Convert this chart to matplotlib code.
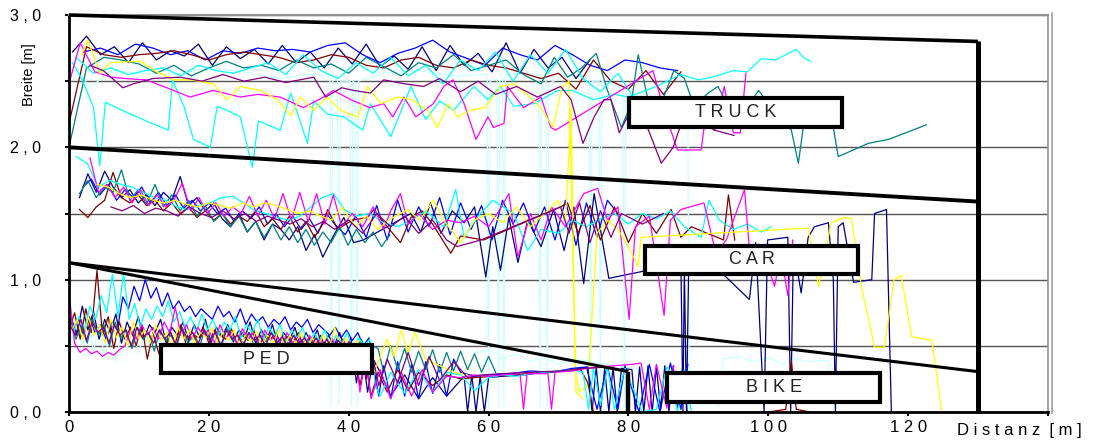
import numpy as np
import matplotlib
matplotlib.use("Agg")
from matplotlib import pyplot as plt
from matplotlib.patches import Rectangle
from matplotlib.lines import Line2D

plt.rcParams["font.family"] = ["Liberation Sans", "DejaVu Sans"]

# excel default series colours
NAVY = "#000080"
BLUE = "#0000FF"
MAROON = "#800000"
TEAL = "#008080"
CYAN = "#00FFFF"
MAGENTA = "#FF00FF"
YELLOW = "#FFFF00"
PURPLE = "#800080"
LCYAN = "#CCFFFF"

# ---------------- TRUCK ----------------
truck_navy = [2.72, 2.84, 2.70, 2.76, 2.64, 2.79, 2.66, 2.73, 2.69, 2.78, 2.62, 2.76, 2.67, 2.74, 2.63, 2.77,
              2.64, 2.72, 2.60, 2.75, 2.63, 2.78, 2.61, 2.69, 2.59, 2.76, 2.58, 2.77, 2.62, 2.71, 2.57, 2.79,
              2.56, 2.74, 2.60, 2.68, 2.52, 2.66]  # from 0.5 m, every 2 m
truck_blue = [2.72, 2.75, 2.70, 2.78, 2.75, 2.70, 2.73, 2.66, 2.73, 2.71, 2.75, 2.73, 2.74, 2.72, 2.77, 2.79,
              2.70, 2.64, 2.71, 2.75, 2.81, 2.72, 2.67, 2.62, 2.75, 2.70, 2.66, 2.77, 2.70, 2.62, 2.58, 2.66,
              2.64, 2.60, 2.58]  # from 2 m, every 2.5 m
truck_maroon = [2.18, 2.76, 2.70, 2.68, 2.70, 2.71, 2.73, 2.70, 2.66, 2.70, 2.72, 2.70, 2.68, 2.64, 2.66, 2.70,
                2.68, 2.62, 2.60, 2.66, 2.68, 2.62, 2.60, 2.66, 2.62, 2.60, 2.56, 2.52, 2.56, 2.44, 2.66, 2.50,
                2.44, 2.58, 2.40, 2.57]  # from 0 m, every 2.5 m
truck_teal = [2.00, 2.60, 2.68, 2.66, 2.63, 2.56, 2.62, 2.54, 2.60, 2.65, 2.60, 2.62, 2.58, 2.66, 2.60, 2.63,
              2.56, 2.68, 2.61, 2.54, 2.64, 2.60, 2.70, 2.58, 2.62, 2.66, 2.55, 2.48]  # from 0 m, every 2.5 m
truck_teal_tail_x = [69.4, 71.3, 73.3, 75.4, 77, 79, 80.4, 81.4, 82.8, 84.6, 86.5, 88, 89.4, 91.4, 92.8, 94.3,
                     96.4, 98.6, 100.5, 103.3, 104.3, 105, 106.5, 108.3, 109.3, 110, 114.3, 117.2, 122.6]
truck_teal_tail_y = [2.68, 2.53, 2.60, 2.71, 2.43, 2.15, 2.33, 2.70, 2.36, 2.32, 2.58, 2.52, 2.31, 2.41, 2.46, 2.31,
                     2.26, 2.43, 2.30, 2.13, 1.88, 2.15, 2.30, 2.38, 2.15, 1.93, 2.03, 2.06, 2.17]
truck_cyan_a_x = [0.5, 2, 3.5, 4.4, 5.2, 8, 11, 14.2, 14.8, 16.5, 17.8, 20.2, 21.2, 23, 24.5, 26.2, 27.1, 30.2,
                  31.7, 34.1, 35, 37, 39.3, 42, 43.1, 46, 48.9, 51, 53, 55, 57.9, 59.9, 61.7, 63.6, 66.5, 69.9,
                  72, 75, 78, 80, 84, 87.5, 90, 92, 95, 97, 99, 101, 104, 105, 106]
truck_cyan_a_y = [2.64, 2.50, 2.30, 1.86, 2.34, 2.27, 2.20, 2.13, 2.51, 2.30, 2.06, 2.00, 2.31, 2.27, 2.23, 1.85,
                  2.20, 2.13, 2.41, 2.03, 2.35, 2.25, 2.23, 2.13, 2.33, 2.08, 2.46, 2.21, 2.35, 2.28, 2.46, 2.36,
                  2.46, 2.31, 2.33, 2.43, 2.43, 2.36, 2.40, 2.38, 2.46, 2.55, 2.51, 2.53, 2.58, 2.57, 2.67, 2.66,
                  2.74, 2.68, 2.65]
truck_cyan_b = [2.68, 2.56, 2.60, 2.55, 2.58, 2.60, 2.54, 2.62, 2.58, 2.56, 2.60, 2.64, 2.55, 2.70, 2.58, 2.52,
                2.64, 2.56, 2.68, 2.54, 2.62, 2.48, 2.66, 2.58, 2.72, 2.50, 2.70, 2.56, 2.74, 2.52, 2.42, 2.56,
                2.35]  # from 1 m, every 2.5 m
truck_magenta_x = [0, 1.6, 3.7, 6, 8, 11, 14, 17.3, 20.6, 24.5, 27, 30.2, 33.5, 36.4, 37.8, 40.3, 43, 45, 46.3,
                   47.9, 49.6, 52.1, 53.6, 54.9, 56.5, 58.2, 59.9, 60.7, 62.2, 62.7, 65, 67.5, 68.9, 69.6, 83.5,
                   85, 87, 90.4, 91.4, 92.3, 93.7, 95, 96, 96.8]
truck_magenta_y = [2.48, 2.79, 2.57, 2.53, 2.52, 2.51, 2.45, 2.38, 2.43, 2.38, 2.40, 2.38, 2.30, 2.38, 2.43, 2.36,
                   2.30, 2.33, 2.23, 2.38, 2.23, 2.33, 2.46, 2.51, 2.33, 2.06, 2.23, 2.15, 2.18, 2.46, 2.30, 2.38,
                   2.15, 2.13, 2.58, 2.30, 1.98, 1.98, 2.38, 2.13, 2.46, 2.11, 2.11, 2.56]
truck_yellow_x = [1.8, 2.7, 4.4, 5.9, 10.2, 12.6, 14.9, 17.5, 20.6, 22.6, 24.5, 27.4, 29.8, 31.7, 33.1, 35, 36.9,
                  38.8, 41.3, 42.7, 44.6, 47, 49, 51.3, 52.7, 54.2, 55.6, 57.4, 59.5, 61.7, 63.6, 65.5, 67.5,
                  69.2, 70.5, 71.5, 72.5, 73.5]
truck_yellow_y = [2.70, 2.81, 2.56, 2.64, 2.65, 2.57, 2.51, 2.51, 2.48, 2.36, 2.46, 2.43, 2.36, 2.24, 2.38, 2.28,
                  2.38, 2.28, 2.23, 2.46, 2.33, 2.38, 2.36, 2.28, 2.15, 2.33, 2.23, 2.28, 2.30, 2.46, 2.48, 2.40,
                  2.30, 2.15, 2.45, 2.50, 0.15, 0.10]
truck_purple_x = [3, 4.9, 7.7, 9.2, 12, 15.9, 19, 22, 25, 28, 31, 35, 36.7, 39, 40.7, 43.1, 45, 48, 50.7, 53, 56,
                  58.5, 61, 64, 67, 70.3, 71.8, 73.5, 75.1, 76.5, 77.5, 78.7, 80.5, 82.5, 84.7, 86.4, 88, 90,
                  92.3, 95.1]
truck_purple_y = [2.62, 2.58, 2.45, 2.48, 2.52, 2.53, 2.50, 2.55, 2.50, 2.53, 2.49, 2.53, 2.38, 2.45, 2.43, 2.41,
                  2.51, 2.48, 2.46, 2.52, 2.42, 2.50, 2.40, 2.46, 2.38, 2.46, 2.36, 2.03, 2.23, 2.36, 2.36, 2.11,
                  2.30, 2.18, 1.88, 2.00, 2.25, 2.20, 2.13, 2.09]
truck_lcyan_x = [1, 3, 6, 10, 15, 20, 25, 30, 34, 37.3, 37.5, 37.7, 38.4, 38.6, 38.8, 40.2, 40.4, 40.6, 41.0, 41.2,
                 41.4, 45, 50, 55, 59.8, 60.0, 60.2, 61.2, 61.4, 61.6, 62.0, 62.2, 62.4, 65, 67.2, 67.4, 67.6,
                 68.2, 68.4, 68.6, 71, 74.4, 74.6, 74.8, 75.8, 76.0, 76.2, 79.2, 79.4, 79.6, 84, 88.5, 88.7]
truck_lcyan_y = [2.60, 2.45, 2.58, 2.56, 2.55, 2.60, 2.57, 2.52, 2.55, 2.55, 0.05, 2.50, 2.52, 0.05, 2.50, 2.50,
                 0.05, 2.50, 2.48, 0.05, 2.50, 2.56, 2.58, 2.54, 2.55, 0.03, 2.50, 2.52, 0.03, 2.50, 2.52, 0.03,
                 2.55, 2.56, 2.55, 0.03, 2.50, 2.52, 0.03, 2.48, 2.55, 2.52, 0.03, 2.50, 2.50, 0.03, 2.50, 2.45,
                 0.03, 2.40, 2.35, 2.30, 0.02]

# ---------------- CAR ----------------
car_navy = [1.62, 1.80, 1.66, 1.82, 1.70, 1.62, 1.68, 1.58, 1.64, 1.56, 1.66, 1.60, 1.78, 1.56, 1.62, 1.52,
            1.58, 1.46, 1.40, 1.50, 1.36, 1.44, 1.30, 1.42, 1.38, 1.30, 1.40, 1.22, 1.34, 1.17]  # 1.5 m, 1.2 m
car_navy_tail_x = [37.7, 39.3, 40.7, 42.1, 48.9, 50.3, 51.7, 53.2, 54.8, 56.5, 58, 59.6, 60.6, 61.7, 62.9, 64.2,
                   65.6, 67.5, 69.3, 70.8, 72.2, 73.6, 75.1, 77.2, 81.8, 87.5, 87.8, 88.0, 88.3, 88.6, 92, 97.3,
                   98.2, 99.4, 99.9, 102.8, 103.2, 103.6, 104.7, 105.7, 106.6, 108.6, 109.3, 109.6, 110.0,
                   110.7, 112.2, 114.8, 115.2, 116.9, 117.6]
car_navy_tail_y = [1.32, 1.47, 1.28, 1.30, 1.50, 1.36, 1.58, 1.35, 1.52, 1.43, 1.55, 1.02, 1.40, 1.07, 1.47, 1.13,
                   1.45, 1.25, 1.53, 1.22, 1.55, 0.97, 1.65, 1.01, 1.06, 1.15, 0.0, 1.10, 0.0, 1.05, 1.12, 0.85,
                   1.28, 0.0, 1.30, 1.32, 0.0, 1.25, 0.90, 1.32, 1.40, 1.43, 1.00, 0.0, 1.40, 1.43, 0.98, 1.00,
                   1.50, 1.53, 0.0]
car_blue = [1.70, 1.76, 1.64, 1.72, 1.60, 1.68, 1.62, 1.70, 1.58, 1.66, 1.56, 1.64, 1.54, 1.60, 1.52, 1.58,
            1.50, 1.54, 1.44, 1.52, 1.46, 1.55, 1.42, 1.50, 1.40, 1.48, 1.38, 1.46, 1.35, 1.50]  # 2 m, 1.2 m
car_blue_tail_x = [38, 39.5, 41, 42.5, 44, 45.5, 47, 48.5, 50, 51.5, 53, 54.5, 56, 57.5, 59, 60.5, 62, 63.5, 65,
                   66.5, 68, 69.5, 71, 72.5, 74, 75.5, 77, 78.5]
car_blue_tail_y = [1.42, 1.34, 1.48, 1.32, 1.56, 1.30, 1.60, 1.36, 1.55, 1.40, 1.62, 1.34, 1.58, 1.38, 1.56, 1.30,
                   1.60, 1.42, 1.58, 1.36, 1.55, 1.30, 1.60, 1.26, 1.58, 1.32, 1.60, 1.50]
car_maroon = [1.53, 1.47, 1.55, 1.60, 1.81, 1.62, 1.58, 1.64, 1.56, 1.60, 1.52, 1.58, 1.50, 1.55, 1.47, 1.52,
              1.45, 1.50, 1.42, 1.48, 1.44, 1.52, 1.40, 1.46, 1.38, 1.48, 1.36, 1.44, 1.32, 1.42]  # 1.5 m, 1.2 m
car_maroon_tail_x = [37, 38.4, 40.5, 42.7, 43.6, 45.5, 47.4, 48.9, 50.5, 52, 54.6, 56, 59.3, 70.3, 71.3, 72.8,
                     74.5, 76, 78, 80, 82, 84, 86.1, 87.5, 89, 93.6, 94.3, 95.2]
car_maroon_tail_y = [1.53, 1.38, 1.45, 1.47, 1.53, 1.40, 1.28, 1.47, 1.52, 1.42, 1.20, 1.33, 1.30, 1.55, 1.58, 1.35,
                     1.56, 1.30, 1.55, 1.28, 1.50, 1.35, 1.53, 1.32, 1.40, 1.30, 1.64, 1.30]
car_teal = [1.65, 1.75, 1.62, 1.70, 1.66, 1.83, 1.60, 1.68, 1.57, 1.72, 1.55, 1.64, 1.52, 1.60, 1.48, 1.56,
            1.44, 1.50, 1.40, 1.48, 1.36, 1.44, 1.32, 1.42, 1.30, 1.40, 1.28, 1.38, 1.26, 1.36, 1.28, 1.40,
            1.26, 1.38, 1.28, 1.36, 1.25, 1.34]  # 1.5 m, 1.2 m
car_cyan = [1.93, 1.88, 1.70, 1.75, 1.72, 1.70, 1.66, 1.62, 1.60, 1.55, 1.53, 1.56, 1.58, 1.62, 1.63, 1.58,
            1.52, 1.50, 1.47, 1.45, 1.48, 1.55, 1.62, 1.65, 1.53, 1.48]  # 1 m, 1.6 m
car_cyan_tail_x = [43, 45, 47, 49, 51, 53.6, 55.3, 56.5, 58.5, 60.6, 63.6, 65.6, 67.5, 70, 72, 74, 76, 78, 80, 82,
                   84, 86, 88, 90.4, 91.5, 93, 95, 97, 99, 100.4]
car_cyan_tail_y = [1.50, 1.43, 1.40, 1.45, 1.52, 1.40, 1.68, 1.32, 1.48, 1.60, 1.50, 1.22, 1.38, 1.35, 1.45, 1.40,
                   1.46, 1.50, 1.42, 1.50, 1.46, 1.52, 1.40, 1.32, 1.60, 1.45, 1.38, 1.42, 1.36, 1.40]
car_magenta = [1.92, 1.66, 1.72, 1.62, 1.70, 1.58, 1.68, 1.56, 1.64, 1.55, 1.60, 1.73, 1.52, 1.62, 1.50, 1.58,
               1.48, 1.55, 1.50, 1.63, 1.48, 1.60, 1.46, 1.65, 1.45, 1.66, 1.44, 1.65, 1.42, 1.64, 1.40]  # 3 m, 1.2 m
car_magenta_tail_x = [40.5, 42, 43.5, 45, 46, 47.4, 48.5, 50, 52, 54, 56, 58, 60, 61.5, 62.9, 64.2, 66, 67.5, 69,
                      71, 73.6, 75.6, 77, 78.5, 80.1, 81, 83, 85.1, 86, 87.5, 90.8, 92.5, 94, 96.6, 97.5, 99,
                      100.9, 101.8, 102.8, 103.5]
car_magenta_tail_y = [1.50, 1.40, 1.55, 1.38, 1.52, 1.65, 1.42, 1.50, 1.38, 1.45, 1.43, 1.48, 1.40, 1.52, 1.65,
                      1.17, 1.50, 1.30, 1.55, 1.40, 1.65, 1.69, 1.45, 1.55, 0.70, 1.40, 1.48, 0.73, 1.45, 1.53,
                      1.58, 1.20, 1.30, 1.68, 1.10, 1.25, 0.95, 1.20, 0.88, 1.30]
car_yellow = [1.72, 1.70, 1.65, 1.62, 1.64, 1.60, 1.58, 1.60, 1.57, 1.55, 1.58, 1.56, 1.54, 1.58, 1.55, 1.58,
              1.56, 1.53, 1.50, 1.52, 1.48, 1.45]  # 4 m, 1.6 m
car_yellow_tail_x = [39, 41, 42.5, 44.1, 46, 48.4, 50.2, 52.1, 54, 56, 58, 60, 62, 64, 66, 68, 69.9, 71, 71.8,
                     72.4, 73, 74.2, 75.5, 77, 78.5, 80, 81.4, 81.8, 105.7, 107.2, 109, 110.9, 111.9, 113.3,
                     115.2, 116.6, 118, 119, 120.5, 123.4, 124.8]
car_yellow_tail_y = [1.55, 1.40, 1.48, 1.38, 1.46, 1.53, 1.45, 1.60, 1.42, 1.28, 1.45, 1.50, 1.43, 1.55, 1.40,
                     1.50, 1.60, 1.45, 2.30, 0.30, 0.15, 0.20, 1.35, 1.45, 1.38, 1.25, 1.10, 1.32, 1.39, 0.95,
                     1.43, 1.47, 1.46, 0.95, 0.49, 0.49, 1.00, 1.03, 0.57, 0.54, 0.0]
car_purple = [1.55, 1.52, 1.56, 1.50, 1.54, 1.52, 1.48, 1.55, 1.50, 1.47, 1.52, 1.46, 1.50, 1.44, 1.48, 1.45,
              1.42, 1.46, 1.40, 1.44]  # 6 m, 1.6 m
car_purple_tail_x = [38, 40, 42, 44, 46, 48, 50, 52, 54, 55.5, 58.9, 70.3, 71.5, 73, 74.5, 76, 77.5, 79, 82, 85]
car_purple_tail_y = [1.38, 1.45, 1.35, 1.50, 1.40, 1.48, 1.35, 1.45, 1.30, 1.25, 1.30, 1.55, 1.35, 1.58, 1.28,
                     1.52, 1.32, 1.50, 1.42, 1.50]

# ---------------- PED / BIKE ----------------
ped_navy = [0.72, 0.58, 0.80, 0.62, 0.76, 0.55, 0.70, 0.60, 0.74, 0.52, 0.68, 0.58, 0.72, 0.55, 0.66, 0.60,
            0.70, 0.52, 0.64, 0.58, 0.68, 0.54, 0.66, 0.56, 0.70, 0.52, 0.64, 0.57, 0.66, 0.53, 0.62, 0.56,
            0.68, 0.52, 0.62, 0.55, 0.66, 0.50, 0.60, 0.54, 0.64, 0.50, 0.60, 0.52, 0.62, 0.48, 0.58, 0.50,
            0.60, 0.47, 0.56, 0.22, 0.48, 0.15, 0.40]  # 0.3 m, 0.8 m
ped_navy_tail_x = [44.5, 46, 48, 50, 52, 54, 56.5, 57, 57.6, 58.2, 58.8, 59.4, 60, 62, 65, 68, 71, 74.2, 74.8,
                   75.4, 76, 76.6, 77.2, 77.8, 78.4, 79, 80.5, 81, 81.6, 82.2, 82.8, 83.4, 84, 84.6, 85.2, 85.8,
                   86.4, 87, 87.8, 88.4]
ped_navy_tail_y = [0.30, 0.12, 0.28, 0.10, 0.26, 0.12, 0.27, 0.0, 0.28, 0.0, 0.27, 0.0, 0.26, 0.27, 0.28, 0.30,
                   0.31, 0.34, 0.0, 0.34, 0.0, 0.33, 0.0, 0.34, 0.0, 0.33, 0.32, 0.0, 0.34, 0.0, 0.35, 0.0, 0.34,
                   0.02, 0.35, 0.0, 0.35, 0.03, 0.36, 0.0]
ped_blue = [0.62, 0.70, 0.58, 0.72, 0.60, 0.66, 0.55, 0.68, 0.62, 0.87, 0.78, 0.95, 0.84, 1.00, 0.86, 0.94,
            0.80, 0.90, 0.78, 0.84, 0.76, 0.80, 0.72, 0.78, 0.74, 0.70, 0.80, 0.72, 0.76, 0.68, 0.78, 0.66,
            0.74, 0.68, 0.72, 0.64, 0.70, 0.66, 0.72, 0.62, 0.68, 0.64, 0.70, 0.60, 0.66, 0.62, 0.58, 0.64,
            0.56, 0.62, 0.54, 0.60, 0.50, 0.56, 0.30]  # 0.5 m, 0.8 m
ped_blue_tail_x = [44.3, 45, 46, 47, 48, 49, 50, 51, 52, 53, 54, 55, 56, 58, 60, 63, 66, 69, 72, 74, 75.5, 77,
                   78.5, 79.5, 81.5, 83, 84.5, 86, 87.5, 88.5]
ped_blue_tail_y = [0.12, 0.35, 0.10, 0.38, 0.12, 0.36, 0.10, 0.38, 0.14, 0.36, 0.12, 0.40, 0.30, 0.27, 0.28, 0.29,
                   0.31, 0.30, 0.33, 0.34, 0.02, 0.34, 0.02, 0.35, 0.0, 0.36, 0.0, 0.37, 0.02, 0.36]
ped_maroon = [0.62, 0.75, 0.55, 0.78, 0.60, 1.07, 0.58, 0.72, 0.48, 0.68, 0.55, 0.64, 0.50, 0.66, 0.40, 0.60,
              0.45, 0.35, 0.62, 0.52, 0.66, 0.50, 0.60, 0.56, 0.64, 0.52, 0.62, 0.58, 0.55, 0.63, 0.52, 0.60,
              0.54, 0.62, 0.50, 0.58, 0.55, 0.60, 0.50, 0.57, 0.52, 0.60, 0.48, 0.56, 0.50, 0.58, 0.46, 0.54,
              0.48, 0.55, 0.45, 0.50, 0.20, 0.40, 0.12]  # 0 m, 0.8 m
ped_maroon_tail_x = [44.2, 45.5, 47, 48.5, 50, 52, 54, 56, 58, 60.7, 73.2, 74.2, 75, 78, 80.5, 85, 90, 95, 100,
                     102.5, 103.3, 104, 106]
ped_maroon_tail_y = [0.30, 0.15, 0.32, 0.16, 0.30, 0.20, 0.28, 0.25, 0.26, 0.27, 0.32, 0.22, 0.0, 0.0, 0.0, 0.0,
                     0.0, 0.0, 0.0, 0.02, 0.39, 0.02, 0.0]
ped_teal = [0.70, 0.55, 0.65, 0.52, 0.70, 0.58, 0.66, 0.50, 0.68, 0.56, 0.62, 0.48, 0.64, 0.55, 0.60, 0.46,
            0.62, 0.54, 0.58, 0.50, 0.64, 0.52, 0.58, 0.48, 0.62, 0.55, 0.60, 0.50, 0.63, 0.54, 0.58, 0.52,
            0.60, 0.48, 0.58, 0.53, 0.60, 0.50, 0.56, 0.52, 0.58, 0.48, 0.55, 0.50, 0.56, 0.46, 0.54, 0.49,
            0.55, 0.45, 0.52, 0.47, 0.55, 0.44, 0.50]  # 0.2 m, 0.8 m
ped_teal_tail_x = [44.2, 45, 46, 47, 48, 49, 50, 51, 52, 53, 54, 55, 56, 57, 58, 59, 60, 61]
ped_teal_tail_y = [0.48, 0.30, 0.50, 0.32, 0.48, 0.30, 0.46, 0.32, 0.47, 0.30, 0.45, 0.31, 0.46, 0.32, 0.44, 0.30,
                   0.42, 0.30]
ped_cyan = [0.60, 0.72, 0.62, 0.80, 0.70, 0.88, 0.75, 1.04, 0.72, 1.05, 0.70, 0.82, 0.64, 0.78, 0.70, 0.80,
            0.72, 0.84, 0.68, 0.76, 0.64, 0.72, 0.60, 0.74, 0.62, 0.70, 0.58, 0.68, 0.62, 0.72, 0.56, 0.66,
            0.60, 0.70, 0.55, 0.64, 0.58, 0.66, 0.52, 0.62, 0.56, 0.64, 0.50, 0.60, 0.54, 0.62, 0.48, 0.58,
            0.52, 0.60, 0.46, 0.56, 0.50, 0.55, 0.20]  # 0.6 m, 0.8 m
ped_cyan_tail_x = [44.5, 46, 48, 50, 52, 54, 56, 58, 60, 62, 64, 66, 68, 70, 72, 73.5, 74.3, 75, 76, 77, 78,
                   79.5, 82, 84, 85.5, 86, 87, 88, 89]
ped_cyan_tail_y = [0.12, 0.30, 0.14, 0.32, 0.15, 0.30, 0.28, 0.16, 0.26, 0.28, 0.27, 0.29, 0.30, 0.31, 0.32, 0.30,
                   0.02, 0.33, 0.05, 0.34, 0.02, 0.33, 0.0, 0.02, 0.34, 0.30, 0.0, 0.32, 0.0]
ped_magenta = [0.90, 0.52, 0.45, 0.48, 0.44, 0.46, 0.42, 0.45, 0.43, 0.47, 0.50, 0.62, 0.55, 0.66, 0.58, 0.64,
               0.55, 0.68, 0.60, 0.79, 0.58, 0.66, 0.55, 0.64, 0.58, 0.62, 0.52, 0.66, 0.56, 0.60, 0.52, 0.63,
               0.55, 0.60, 0.50, 0.62, 0.54, 0.58, 0.50, 0.60, 0.52, 0.57, 0.48, 0.58, 0.50, 0.55, 0.47, 0.56,
               0.48, 0.54, 0.45, 0.52, 0.15, 0.40, 0.10]  # 0 m, 0.8 m
ped_magenta_tail_x = [44.5, 46, 47.5, 49, 50.5, 52, 54, 56, 58, 60, 62, 64.5, 65, 65.5, 68.5, 69, 69.5, 72, 74,
                      76, 78, 80.5, 81.8, 83, 84, 85.5, 86.5]
ped_magenta_tail_y = [0.32, 0.10, 0.30, 0.12, 0.32, 0.15, 0.27, 0.26, 0.28, 0.27, 0.28, 0.29, 0.02, 0.29, 0.29,
                      0.02, 0.30, 0.31, 0.33, 0.34, 0.35, 0.36, 0.37, 0.02, 0.36, 0.03, 0.35]
ped_yellow = [0.62, 0.70, 0.55, 0.72, 0.58, 0.66, 0.52, 0.70, 0.56, 0.64, 0.50, 0.68, 0.55, 0.62, 0.52, 0.66,
              0.54, 0.60, 0.50, 0.64, 0.55, 0.62, 0.52, 0.60, 0.56, 0.64, 0.52, 0.60, 0.54, 0.62, 0.50, 0.58,
              0.53, 0.61, 0.50, 0.58, 0.52, 0.62, 0.50, 0.58, 0.52, 0.60, 0.48, 0.56, 0.50, 0.58, 0.48, 0.64,
              0.50, 0.56, 0.46, 0.54, 0.48, 0.52, 0.30]  # 0.4 m, 0.8 m
ped_yellow_tail_x = [44.4, 45.5, 46.5, 47.5, 48.5, 49.5, 51, 53, 55, 57]
ped_yellow_tail_y = [0.40, 0.55, 0.42, 0.62, 0.45, 0.60, 0.40, 0.35, 0.30, 0.28]
ped_purple = [0.66, 0.58, 0.70, 0.54, 0.68, 0.60, 0.64, 0.52, 0.66, 0.58, 0.62, 0.50, 0.64, 0.56, 0.60, 0.52,
              0.62, 0.55, 0.60, 0.50, 0.63, 0.56, 0.60, 0.52, 0.62, 0.54, 0.60, 0.50, 0.62, 0.55, 0.58, 0.50,
              0.60, 0.54, 0.58, 0.50, 0.60, 0.52, 0.57, 0.49, 0.58, 0.52, 0.56, 0.48, 0.56, 0.50, 0.55, 0.46,
              0.54, 0.49, 0.53, 0.46, 0.52, 0.25, 0.45]  # 0.1 m, 0.8 m
ped_purple_tail_x = [44.3, 45.5, 47, 48.5, 50, 51.5, 53, 55, 57, 59, 62, 66, 70, 74, 77]
ped_purple_tail_y = [0.20, 0.40, 0.22, 0.45, 0.20, 0.42, 0.24, 0.38, 0.26, 0.28, 0.29, 0.30, 0.31, 0.33, 0.34]
ped_lcyan = [0.55, 0.68, 0.50, 0.72, 0.45, 0.66, 0.40, 0.62, 0.38, 0.60, 0.48, 0.64, 0.44, 0.58, 0.50, 0.62,
             0.46, 0.60, 0.48, 0.56, 0.44, 0.60, 0.46, 0.58, 0.42, 0.56, 0.48, 0.60, 0.44, 0.55, 0.46, 0.58,
             0.42, 0.54, 0.45, 0.56, 0.42, 0.55, 0.44, 0.52, 0.40, 0.54, 0.42, 0.50, 0.38, 0.52, 0.40, 0.48,
             0.36, 0.46]  # 0.3 m, 0.8 m
bike_lcyan_x = [58, 60.3, 62, 64, 66, 68, 70, 72, 75, 78, 82, 86, 88, 90, 92, 92.8, 93.5, 95.7, 98, 100, 102, 104,
                106, 108.6, 109.2]
bike_lcyan_y = [0.45, 0.47, 0.40, 0.44, 0.38, 0.42, 0.36, 0.40, 0.38, 0.35, 0.32, 0.30, 0.10, 0.30, 0.25, 0.04,
                0.40, 0.42, 0.38, 0.41, 0.36, 0.40, 0.38, 0.39, 0.05]

# zone borders and label boxes
border_lines = [([0, 130], [3.0, 2.80], 2.6), ([0, 130], [2.0, 1.59], 2.8), ([0, 130], [1.128, 0.305], 2.2),
                ([0, 80], [1.128, 0.305], 2.2), ([130, 130], [2.80, -0.01], 3.6), ([80, 80], [0.305, -0.01], 3.2)]
box_text = ["T R U C K", "C A R", "P E D", "B I K E"]
box_pos = [(80.1, 2.154, 30.4, 0.219), (82.4, 1.043, 30.5, 0.215), (13.1, 0.295, 30.2, 0.211),
           (85.5, 0.076, 30.5, 0.219)]


def xs(start, step, ys):
    return start + step * np.arange(len(ys))


traces = [
    (truck_lcyan_x, truck_lcyan_y, LCYAN),
    (bike_lcyan_x, bike_lcyan_y, LCYAN),
    (xs(0.3, 0.8, ped_lcyan), ped_lcyan, LCYAN),
    (xs(0.5, 2, truck_navy), truck_navy, NAVY),
    (xs(2, 2.5, truck_blue), truck_blue, BLUE),
    (xs(0, 2.5, truck_maroon), truck_maroon, MAROON),
    (np.r_[xs(0, 2.5, truck_teal), truck_teal_tail_x], truck_teal + truck_teal_tail_y, TEAL),
    (truck_cyan_a_x, truck_cyan_a_y, CYAN),
    (xs(1, 2.5, truck_cyan_b), truck_cyan_b, CYAN),
    (truck_magenta_x, truck_magenta_y, MAGENTA),
    (truck_yellow_x, truck_yellow_y, YELLOW),
    (truck_purple_x, truck_purple_y, PURPLE),
    (np.r_[xs(1.5, 1.2, car_navy), car_navy_tail_x], car_navy + car_navy_tail_y, NAVY),
    (np.r_[xs(2, 1.2, car_blue), car_blue_tail_x], car_blue + car_blue_tail_y, BLUE),
    (np.r_[xs(1.5, 1.2, car_maroon), car_maroon_tail_x], car_maroon + car_maroon_tail_y, MAROON),
    (xs(1.5, 1.2, car_teal), car_teal, TEAL),
    (np.r_[xs(1, 1.6, car_cyan), car_cyan_tail_x], car_cyan + car_cyan_tail_y, CYAN),
    (np.r_[xs(3, 1.2, car_magenta), car_magenta_tail_x], car_magenta + car_magenta_tail_y, MAGENTA),
    (np.r_[xs(4, 1.6, car_yellow), car_yellow_tail_x], car_yellow + car_yellow_tail_y, YELLOW),
    (np.r_[xs(6, 1.6, car_purple), car_purple_tail_x], car_purple + car_purple_tail_y, PURPLE),
    (np.r_[xs(0.3, 0.8, ped_navy), ped_navy_tail_x], ped_navy + ped_navy_tail_y, NAVY),
    (np.r_[xs(0.5, 0.8, ped_blue), ped_blue_tail_x], ped_blue + ped_blue_tail_y, BLUE),
    (np.r_[xs(0, 0.8, ped_maroon), ped_maroon_tail_x], ped_maroon + ped_maroon_tail_y, MAROON),
    (np.r_[xs(0.2, 0.8, ped_teal), ped_teal_tail_x], ped_teal + ped_teal_tail_y, TEAL),
    (np.r_[xs(0.6, 0.8, ped_cyan), ped_cyan_tail_x], ped_cyan + ped_cyan_tail_y, CYAN),
    (np.r_[xs(0, 0.8, ped_magenta), ped_magenta_tail_x], ped_magenta + ped_magenta_tail_y, MAGENTA),
    (np.r_[xs(0.4, 0.8, ped_yellow), ped_yellow_tail_x], ped_yellow + ped_yellow_tail_y, YELLOW),
    (np.r_[xs(0.1, 0.8, ped_purple), ped_purple_tail_x], ped_purple + ped_purple_tail_y, PURPLE),
]

fig = plt.figure(figsize=(11.04, 4.41), dpi=100)
ax = fig.add_axes([69 / 1104, 29 / 441, 979 / 1104, 397 / 441])
ax.set_xlim(0, 140)
ax.set_ylim(0, 3.0)

for x, y, c in traces:
    ax.plot(x, y, color=c, lw=0.9, zorder=2)

for bx, by, lw in border_lines:
    ax.plot(bx, by, color="black", lw=lw, solid_capstyle="butt", zorder=4, clip_on=False)

for (x0, y0, w, h), t in zip(box_pos, box_text):
    ax.add_patch(Rectangle((x0, y0), w, h, facecolor="white", edgecolor="black", lw=3, zorder=5))
    ax.text(x0 + w / 2, y0 + h / 2, t, ha="center", va="center", fontsize=13, color="#222222", zorder=6)

# grid / axes
ax.set_yticks(np.arange(0, 3.01, 0.5))
ax.set_yticklabels(["0 , 0", "", "1 , 0", "", "2 , 0", "", "3 , 0"])
ax.set_xticks(np.arange(0, 141, 20))
ax.set_xticklabels(["0", "2 0", "4 0", "6 0", "8 0", "1 0 0", "1 2 0", ""])
ax.yaxis.grid(True, color="#555555", lw=1)
ax.set_axisbelow(True)
ax.tick_params(axis="y", direction="out", length=3, width=1.5, pad=17, labelsize=11.5)
ax.tick_params(axis="x", direction="out", length=3, width=1.5, pad=3, labelsize=12)
ax.spines["left"].set_linewidth(2)
ax.spines["bottom"].set_linewidth(2)
ax.spines["top"].set_color("#909090")
ax.spines["top"].set_linewidth(1.5)
ax.spines["right"].set_color("#909090")
ax.spines["right"].set_linewidth(1.2)
fig.add_artist(Line2D([1052 / 1104, 1052 / 1104], [1 - 413 / 441, 1 - 13 / 441], color="#a0a0a0", lw=1.2))

fig.text(29 / 1104, 1 - 75 / 441, "Breite [m]", rotation=90, ha="center", va="center", fontsize=10.5)
fig.text(957 / 1104, 1 - 430 / 441, "D i s t a n z  [ m ]", ha="left", va="center", fontsize=12)

fig.savefig("out.png", dpi=100)
